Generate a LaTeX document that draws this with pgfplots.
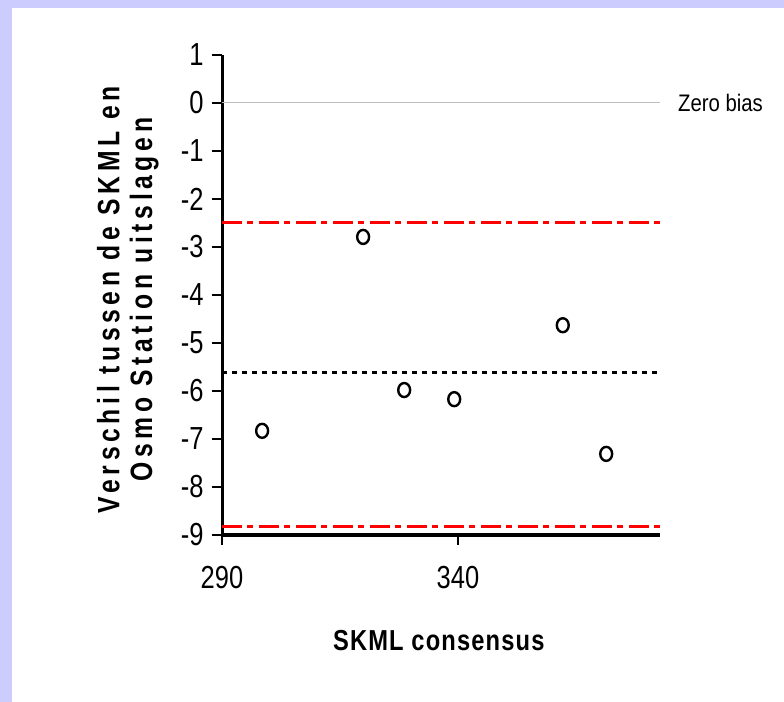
\documentclass[border=0pt]{standalone}
\usepackage{fontspec}
\setmainfont{Liberation Sans}
\usepackage{pgfplots}
\pgfplotsset{compat=1.18}
\newfontfamily\ticksfont[FakeStretch=0.8]{Liberation Sans}
\newfontfamily\zerofont[FakeStretch=0.85]{Liberation Sans}
\newfontfamily\ylabfont[FakeStretch=0.8,LetterSpace=15]{Liberation Sans}
\newfontfamily\xlabfont[FakeStretch=0.82,LetterSpace=4]{Liberation Sans}
\definecolor{lav}{HTML}{CCCCFF}
\definecolor{zgray}{HTML}{BFBFBF}
\begin{document}
\begin{tikzpicture}
\fill[lav] (0,0) rectangle (784bp,702bp);
\fill[white] (12bp,0) rectangle (784bp,694bp);
\begin{axis}[
  at={(222bp,167bp)}, anchor=south west,
  scale only axis, width=438bp, height=480bp,
  xmin=290, xmax=382.8, ymin=-9, ymax=1,
  axis x line*=bottom, axis y line*=left,
  axis line style={line width=3bp, black},
  xtick={290,340}, ytick={-9,-8,-7,-6,-5,-4,-3,-2,-1,0,1},
  minor tick num=0,
  tick align=outside, major tick length=10bp,
  every tick/.style={line width=2.5bp, black},
  /pgf/number format/assume math mode=true,
  /pgf/number format/1000 sep={},
  xticklabel style={font=\ticksfont\fontsize{32}{34}\selectfont, yshift=-18bp},
  yticklabel style={font=\ticksfont\fontsize{32}{34}\selectfont, xshift=-5bp},
  xlabel={SKML consensus},
  xlabel style={font=\xlabfont\bfseries\fontsize{29}{31}\selectfont, at={(axis description cs:0.495,0)}, anchor=center, yshift=-106bp},
  ylabel={Verschil tussen de SKML en\\Osmo Station uitslagen},
  ylabel style={font=\ylabfont\bfseries\fontsize{31}{33}\selectfont, align=center, at={(axis description cs:-0.215,0.49)}, anchor=center, rotate=0},
  clip=false,
]
\addplot[zgray, line width=1bp] coordinates {(290,0) (382.8,0)};
\node[anchor=west, font=\zerofont\fontsize{24}{26}\selectfont, inner sep=0pt] at (axis cs:382.8,0) [xshift=18bp] {Zero bias};
\addplot[red, line width=3bp, dash pattern=on 20bp off 5bp on 6bp off 6bp] coordinates {(290,-2.48) (382.8,-2.48)};
\addplot[red, line width=3bp, dash pattern=on 20bp off 5bp on 6bp off 6bp] coordinates {(290,-8.83) (382.8,-8.83)};
\addplot[black, line width=3bp, dash pattern=on 5bp off 5bp] coordinates {(290,-5.62) (382.8,-5.62)};
\addplot[only marks, mark=o, mark size=7bp, mark options={xscale=0.85, line width=2.4bp, black}] coordinates {
(298.5,-6.83) (319.9,-2.79) (328.6,-5.98) (339.2,-6.17) (362.2,-4.63) (371.4,-7.31)};
\end{axis}
\end{tikzpicture}
\end{document}
